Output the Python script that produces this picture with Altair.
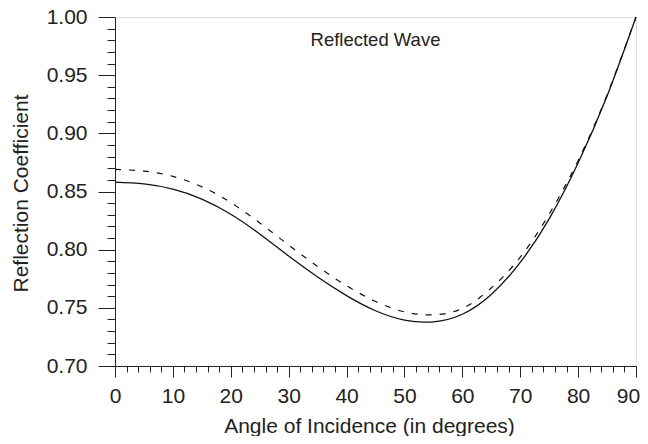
import altair as alt
import pandas as pd

angles = [0, 5, 10, 15, 20, 25, 30, 35, 40, 45, 50, 55, 60, 65, 70, 75, 80, 85, 90]
solid = [0.858, 0.8565, 0.852, 0.8435, 0.8305, 0.8135, 0.7945, 0.7765, 0.7605, 0.7475,
         0.7395, 0.738, 0.7445, 0.7615, 0.789, 0.8265, 0.8745, 0.932, 1.000]
dashed = [0.869, 0.8675, 0.863, 0.854, 0.8405, 0.823, 0.804, 0.7855, 0.769, 0.7555,
          0.7465, 0.744, 0.7495, 0.767, 0.7935, 0.8305, 0.8765, 0.933, 1.000]

x_ticks = list(range(0, 91, 2))
y_ticks = [round(0.70 + 0.01 * i, 2) for i in range(31)]

label_text = ["Reflected Wave"]
label_x = [45]
label_y = [0.975]

df_s = pd.DataFrame({"angle": angles, "R": solid})
df_d = pd.DataFrame({"angle": angles, "R": dashed})
df_t = pd.DataFrame({"angle": label_x, "R": label_y, "t": label_text})

FONT = "Liberation Sans"

xscale = alt.Scale(domain=[0, 90], nice=False, zero=False)
yscale = alt.Scale(domain=[0.70, 1.00], nice=False, zero=False)

xaxis = alt.Axis(
    values=x_ticks, tickCount=200,
    title="Angle of Incidence (in degrees)",
    labelExpr="datum.value % 10 === 0 ? format(datum.value, 'd') : ''",
    tickSize={"condition": {"test": "datum.value % 10 === 0", "value": 11}, "value": 6},
    labelOffset={"condition": {"test": "datum.value === 90", "value": -8}, "value": 0},
    grid=False, labelFont=FONT, labelFontSize=21, titleFont=FONT, titleFontSize=21,
    titleFontWeight="normal", labelColor="#222", titleColor="#222",
    domainColor="#222", tickColor="#222", labelPadding=8,
    titleX=254, titleY=66, titleBaseline="alphabetic", titleAnchor="middle",
    labelFlush=False, labelOverlap=False,
)
yaxis = alt.Axis(
    values=y_ticks, tickCount=200,
    title="Reflection Coefficient",
    labelExpr="round(datum.value*100) % 5 === 0 ? format(datum.value, '.2f') : ''",
    tickSize={"condition": {"test": "round(datum.value*100) % 5 === 0", "value": 17}, "value": 8},
    grid=False, labelFont=FONT, labelFontSize=21, titleFont=FONT, titleFontSize=21,
    titleFontWeight="normal", labelColor="#222", titleColor="#222",
    domainColor="#222", tickColor="#222", labelPadding=11,
    titleX=-94, titleY=176, titleAngle=-90, titleBaseline="middle", titleAlign="center",
    titleAnchor="middle", labelFlush=False, labelOverlap=False,
)

base_x = alt.X("angle:Q", scale=xscale, axis=xaxis)
base_y = alt.Y("R:Q", scale=yscale, axis=yaxis)

line_s = alt.Chart(df_s).mark_line(color="#111", strokeWidth=1.3, interpolate="natural").encode(
    x=base_x, y=base_y)
line_d = alt.Chart(df_d).mark_line(color="#111", strokeWidth=1.2, strokeDash=[6, 8],
                                   interpolate="natural").encode(x=base_x, y=base_y)
txt = alt.Chart(df_t).mark_text(font=FONT, fontSize=18.5, color="#222", align="center",
                                baseline="alphabetic").encode(
    x=alt.X("angle:Q", scale=xscale), y=alt.Y("R:Q", scale=yscale), text="t:N")

chart = alt.layer(line_d, line_s, txt).properties(
    width=521, height=349,
    autosize=alt.AutoSizeParams(type="none"),
    padding={"left": 107, "top": 9, "right": 4, "bottom": 70},
).configure_view(stroke="#555", strokeWidth=1.2).configure(background="white")

chart.save("out.html", embed_options={"renderer": "svg", "actions": False})
